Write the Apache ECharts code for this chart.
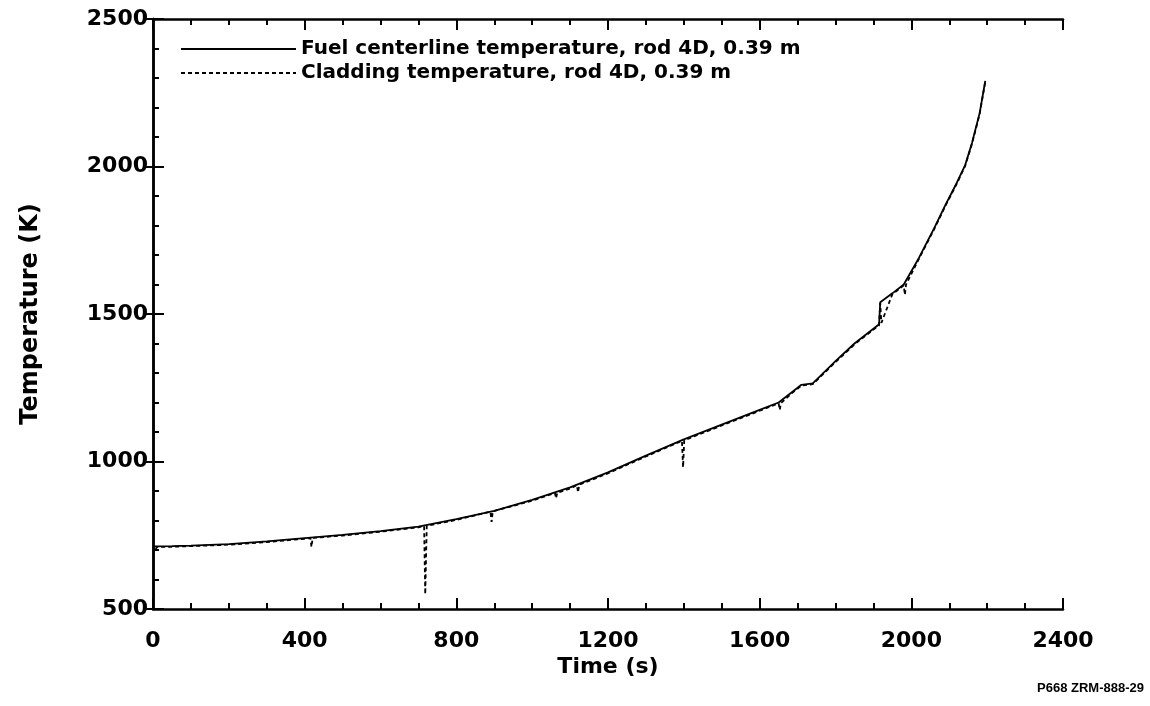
<!DOCTYPE html>
<html><head><meta charset="utf-8">
<script src="https://cdn.jsdelivr.net/npm/echarts@6/dist/echarts.min.js"></script>
<style>html,body{margin:0;padding:0;background:#fff}#c{width:1150px;height:706px}</style>
</head><body><div id="c"></div>
<script>
const xTicks = [0, 400, 800, 1200, 1600, 2000, 2400];
const yTicks = [500, 1000, 1500, 2000, 2500];
const fuelTime = [0, 50, 100, 200, 300, 400, 500, 600, 700, 800, 900, 1000, 1100, 1200, 1300, 1400, 1500, 1600, 1650, 1690, 1710, 1740, 1800, 1850, 1900, 1915, 1918, 1950, 1980, 2020, 2060, 2090, 2120, 2142, 2160, 2180, 2195];
const fuelTemp = [712, 713, 715, 720, 729, 740, 751, 764, 779, 805, 833, 870, 912, 963, 1020, 1075, 1125, 1175, 1200, 1240, 1260, 1265, 1340, 1400, 1450, 1465, 1540, 1570, 1600, 1690, 1790, 1870, 1945, 2005, 2080, 2180, 2290];
const cladTime = [0, 5, 10, 50, 100, 200, 300, 400, 415, 418, 421, 500, 600, 700, 715, 718, 722, 725, 800, 890, 893, 896, 1000, 1060, 1063, 1066, 1100, 1118, 1121, 1124, 1200, 1300, 1395, 1398, 1401, 1500, 1600, 1650, 1653, 1656, 1690, 1710, 1740, 1800, 1850, 1900, 1915, 1918, 1921, 1950, 1980, 1983, 1986, 2020, 2060, 2090, 2120, 2142, 2160, 2180, 2195];
const cladTemp = [710, 695, 710, 711, 713, 718, 727, 738, 740, 710, 741, 749, 762, 777, 781, 550, 782, 784, 802, 830, 795, 831, 867, 893, 875, 894, 908, 920, 895, 921, 960, 1017, 1070, 980, 1072, 1122, 1172, 1197, 1175, 1198, 1237, 1257, 1262, 1337, 1397, 1447, 1462, 1537, 1470, 1567, 1597, 1565, 1600, 1687, 1787, 1867, 1942, 2002, 2077, 2177, 2287];

const fuel = fuelTime.map((t, i) => [t, fuelTemp[i]]);
const clad = cladTime.map((t, i) => [t, cladTemp[i]]);
const font = 'DejaVu Sans';
const tick = {show: true, inside: true, length: 11, lineStyle: {color: '#000', width: 2}};
const minor = {show: true, length: 6, lineStyle: {color: '#000', width: 2}};
const axLine = {show: true, lineStyle: {color: '#000', width: 2.5}};

const chart = echarts.init(document.getElementById('c'));
chart.setOption({
  animation: false,
  backgroundColor: '#fff',
  grid: {left: 153, right: 87, top: 19, bottom: 97},
  legend: {
    left: 180, top: 37, padding: 0, orient: 'vertical', itemWidth: 115, itemHeight: 10, itemGap: 0,
    itemStyle: {opacity: 0},
    textStyle: {fontFamily: font, fontSize: 20, lineHeight: 24, fontWeight: 'bold', color: '#000'},
    data: ['Fuel centerline temperature, rod 4D, 0.39 m', 'Cladding temperature, rod 4D, 0.39 m']
  },
  xAxis: [{
    type: 'value', min: 0, max: 2400, interval: 400,
    name: 'Time (s)', nameLocation: 'middle', nameGap: 47, nameMoveOverlap: false,
    nameTextStyle: {fontFamily: font, fontSize: 22, fontWeight: 'bold', color: '#000'},
    axisLine: axLine, axisTick: tick, minorTick: Object.assign({splitNumber: 4}, minor),
    splitLine: {show: false},
    axisLabel: {fontFamily: font, fontSize: 22, fontWeight: 'bold', color: '#000', margin: 21,
      formatter: v => xTicks.includes(v) ? String(v) : ''}
  }, {
    type: 'value', position: 'top', min: 0, max: 2400, interval: 400,
    axisLine: axLine, axisTick: tick, minorTick: Object.assign({splitNumber: 4}, minor),
    splitLine: {show: false}, axisLabel: {show: false}
  }],
  yAxis: [{
    type: 'value', min: 500, max: 2500, interval: 500,
    name: 'Temperature (K)', nameLocation: 'middle', nameGap: 110, nameRotate: 90, nameMoveOverlap: false,
    nameTextStyle: {fontFamily: font, fontSize: 24, fontWeight: 'bold', color: '#000'},
    axisLine: axLine, axisTick: tick, minorTick: Object.assign({splitNumber: 5}, minor),
    splitLine: {show: false},
    axisLabel: {fontFamily: font, fontSize: 22, fontWeight: 'bold', color: '#000', margin: 5,
      formatter: v => yTicks.includes(v) ? String(v) : ''}
  }, {
    type: 'value', position: 'right', min: 500, max: 2500, interval: 500,
    axisLine: axLine, axisTick: {show: true, inside: true, length: 8, lineStyle: {color: '#000', width: 2}},
    splitLine: {show: false}, axisLabel: {show: false}
  }],
  series: [{
    name: 'Fuel centerline temperature, rod 4D, 0.39 m', type: 'line', data: fuel,
    symbol: 'none', lineStyle: {color: '#000', width: 1.8}, itemStyle: {color: '#000'}
  }, {
    name: 'Cladding temperature, rod 4D, 0.39 m', type: 'line', data: clad,
    symbol: 'none', lineStyle: {color: '#000', width: 1.8, type: [4, 3]}, itemStyle: {color: '#000'}
  }],
  graphic: [{
    type: 'text', right: 6, top: 682,
    style: {text: 'P668 ZRM-888-29', fontFamily: 'Liberation Sans', fontSize: 13, fontWeight: 'bold', fill: '#000'}
  }]
});
</script></body></html>
